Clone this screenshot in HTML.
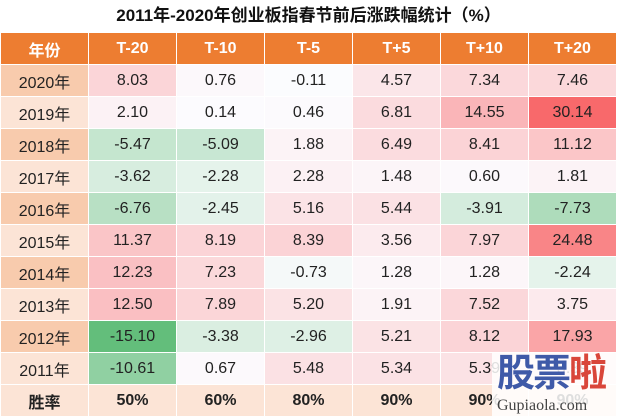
<!DOCTYPE html>
<html><head><meta charset="utf-8"><style>
body{margin:0;width:617px;height:417px;background:#fff;font-family:"Liberation Sans","Noto Sans CJK SC",sans-serif;overflow:hidden;position:relative}
#title{position:absolute;left:0;top:0;width:617px;height:32px;line-height:32px;text-align:center;font-weight:bold;font-size:17px;color:#111}
table{position:absolute;left:0;top:32px;border-collapse:collapse;table-layout:fixed;width:617px}
td,th{height:32px;padding:0;text-align:center;font-size:16px;color:#222;border:1px solid #fff;box-sizing:border-box}
th{background:#ED7D31;color:#fff;font-weight:bold;font-size:16px}
.yr{background:#FCE4D6}.yr.d{background:#F8CBAD}
.last td{background:#FCE4D6;font-weight:bold}
#wmbox{position:absolute;left:492px;top:352px;width:125px;height:65px;background:rgba(255,255,255,0.85)}
#wm{position:absolute;left:497px;top:352px;font-size:38px;line-height:44px;font-weight:bold;color:#3f5aa8;letter-spacing:-2px}
#wm2{position:absolute;left:497px;top:397px;font-size:16px;font-family:"Liberation Serif",serif;color:#444}
</style></head><body>
<div id="title">2011年-2020年创业板指春节前后涨跌幅统计（%）</div>
<table><thead><tr></tr></thead><tbody id="tb"></tbody></table>
<div id="wmbox"></div>
<div id="wm">股票<span style="color:#d9463a">啦</span></div>
<div id="wm2">Gupiaola.com</div>
<script>
const headers=["年份","T-20","T-10","T-5","T+5","T+10","T+20"];
const years=["2020年","2019年","2018年","2017年","2016年","2015年","2014年","2013年","2012年","2011年"];
const t20=[8.03,2.10,-5.47,-3.62,-6.76,11.37,12.23,12.50,-15.10,-10.61];
const t10=[0.76,0.14,-5.09,-2.28,-2.45,8.19,7.23,7.89,-3.38,0.67];
const t5=[-0.11,0.46,1.88,2.28,5.16,8.39,-0.73,5.20,-2.96,5.48];
const p5=[4.57,6.81,6.49,1.48,5.44,3.56,1.28,1.91,5.21,5.34];
const p10=[7.34,14.55,8.41,0.60,-3.91,7.97,1.28,7.52,8.12,5.39];
const p20=[7.46,30.14,11.12,1.81,-7.73,24.48,-2.24,3.75,17.93,5.39];
const winRates=["50%","60%","80%","90%","90%","90%"];
const series=[t20,t10,t5,p5,p10,p20];
const hr=document.querySelector('thead tr');
headers.forEach((h,i)=>{const th=document.createElement('th');th.textContent=h;


if(i==0)th.style.width='88px';hr.appendChild(th);});
const all=series.flat();const mx=Math.max(...all),mn=Math.min(...all);
function col(v){const w=[252,252,255];let t,c;
if(v>=0){t=v/mx;c=[248,105,107];}else{t=v/mn;c=[99,190,123];}
return 'rgb('+w.map((x,i)=>Math.round(x+(c[i]-x)*t)).join(',')+')';}
const tb=document.getElementById('tb');
years.forEach((y,r)=>{const tr=document.createElement('tr');


const td=document.createElement('td');td.className='yr'+(r%2==0?' d':'');td.textContent=y;


tr.appendChild(td);
series.forEach((s,c)=>{const d=document.createElement('td');d.textContent=s[r].toFixed(2);d.style.background=col(s[r]);


tr.appendChild(d);});
tb.appendChild(tr);});
const lr=document.createElement('tr');lr.className='last';


const l0=document.createElement('td');l0.textContent='胜率';


lr.appendChild(l0);
winRates.forEach(w=>{const d=document.createElement('td');d.textContent=w;


lr.appendChild(d);});
tb.appendChild(lr);
</script>
</body></html>
